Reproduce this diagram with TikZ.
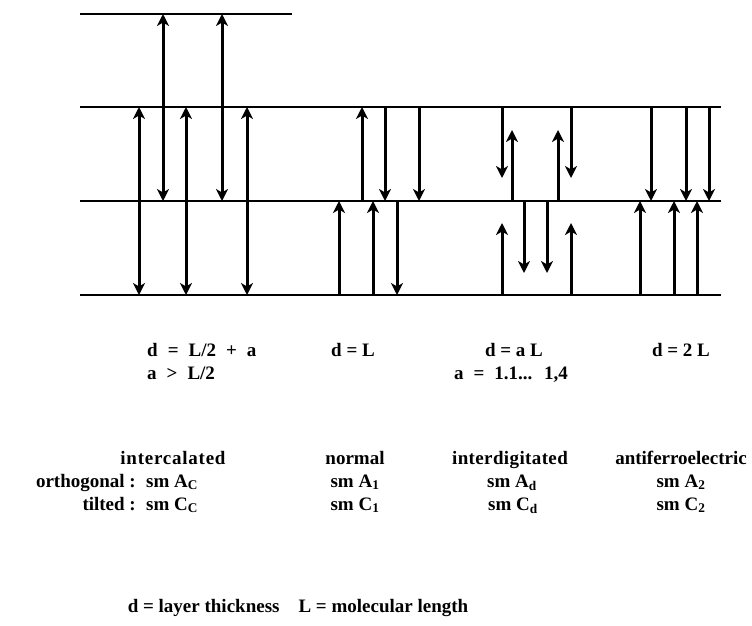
\documentclass[tikz,border=0pt]{standalone}
\usepackage{fontspec}
\setmainfont{Liberation Serif}
\usetikzlibrary{arrows.meta}
\begin{document}
\begin{tikzpicture}[x=1pt,y=-1pt,
  layer/.style={line width=2.2pt},
  tip/.tip={Stealth[length=12pt,width=12pt,inset=3.5pt]},
  mol/.style={line width=3pt,-tip},
  dmol/.style={line width=3pt,tip-tip},
  lbl/.style={font=\fontsize{19}{21}\selectfont\bfseries,inner sep=0pt,anchor=base},
  wide/.style={execute at begin node={\spaceskip=10pt\relax}}]
\useasboundingbox (0,0) rectangle (752,626);
% layers
\draw[layer] (80,14) -- (292,14);
\draw[layer] (80,107) -- (721,107);
\draw[layer] (80,201) -- (721,201);
\draw[layer] (80,295) -- (721,295);
% intercalated
\draw[dmol] (163,14) -- (163,201);
\draw[dmol] (222,14) -- (222,201);
\draw[dmol] (139,107) -- (139,295);
\draw[dmol] (186,107) -- (186,295);
\draw[dmol] (247,107) -- (247,295);
% normal
\draw[mol] (362,201) -- (362,107);
\draw[mol] (385,107) -- (385,201);
\draw[mol] (419,107) -- (419,201);
\draw[mol] (339,295) -- (339,201);
\draw[mol] (373,295) -- (373,201);
\draw[mol] (397,201) -- (397,295);
% interdigitated
\draw[mol] (502,107) -- (502,178);
\draw[mol] (512,201) -- (512,130);
\draw[mol] (558,201) -- (558,130);
\draw[mol] (571,107) -- (571,178);
\draw[mol] (502,295) -- (502,223);
\draw[mol] (524,201) -- (524,273);
\draw[mol] (547,201) -- (547,273);
\draw[mol] (571,295) -- (571,223);
% antiferroelectric
\draw[mol] (651,107) -- (651,201);
\draw[mol] (686,107) -- (686,201);
\draw[mol] (709,107) -- (709,201);
\draw[mol] (640,295) -- (640,201);
\draw[mol] (674,295) -- (674,201);
\draw[mol] (697,295) -- (697,201);
% formulas
\node[lbl,wide,anchor=base west] (f1) at (147,356) {d = L/2 + a};
\node[lbl,wide,anchor=base west] (f1b) at (147,379) {a > L/2};
\node[lbl] (f2) at (353,356) {d = L};
\node[lbl] (f3) at (514,356) {d = a L};
\node[lbl,wide] (f3b) at (511,379) {a = 1.1... 1,4};
\node[lbl] (f4) at (681,356) {d = 2 L};
% names
\node[lbl] (n1) at (173,464) {\addfontfeature{LetterSpace=4}intercalated};
\node[lbl,anchor=base east] (o1) at (136,487) {orthogonal :};
\node[lbl,anchor=base west] (o1b) at (146,487) {sm A\textsubscript{C}};
\node[lbl,anchor=base east] (t1) at (136,510) {tilted :};
\node[lbl,anchor=base west] (t1b) at (146,510) {sm C\textsubscript{C}};
\node[lbl] (n2) at (355,464) {normal};
\node[lbl] (o2) at (355,487) {sm A\textsubscript{1}};
\node[lbl] (t2) at (355,510) {sm C\textsubscript{1}};
\node[lbl] (n3) at (510,464) {\addfontfeature{LetterSpace=2}interdigitated};
\node[lbl] (o3) at (512,487) {sm A\textsubscript{d}};
\node[lbl] (t3) at (513,510) {sm C\textsubscript{d}};
\node[lbl] (n4) at (681,464) {antiferroelectric};
\node[lbl] (o4) at (681,487) {sm A\textsubscript{2}};
\node[lbl] (t4) at (681,510) {sm C\textsubscript{2}};
\node[lbl] (leg) at (298,612) {d = layer thickness\quad L = molecular length};
\end{tikzpicture}
\end{document}
